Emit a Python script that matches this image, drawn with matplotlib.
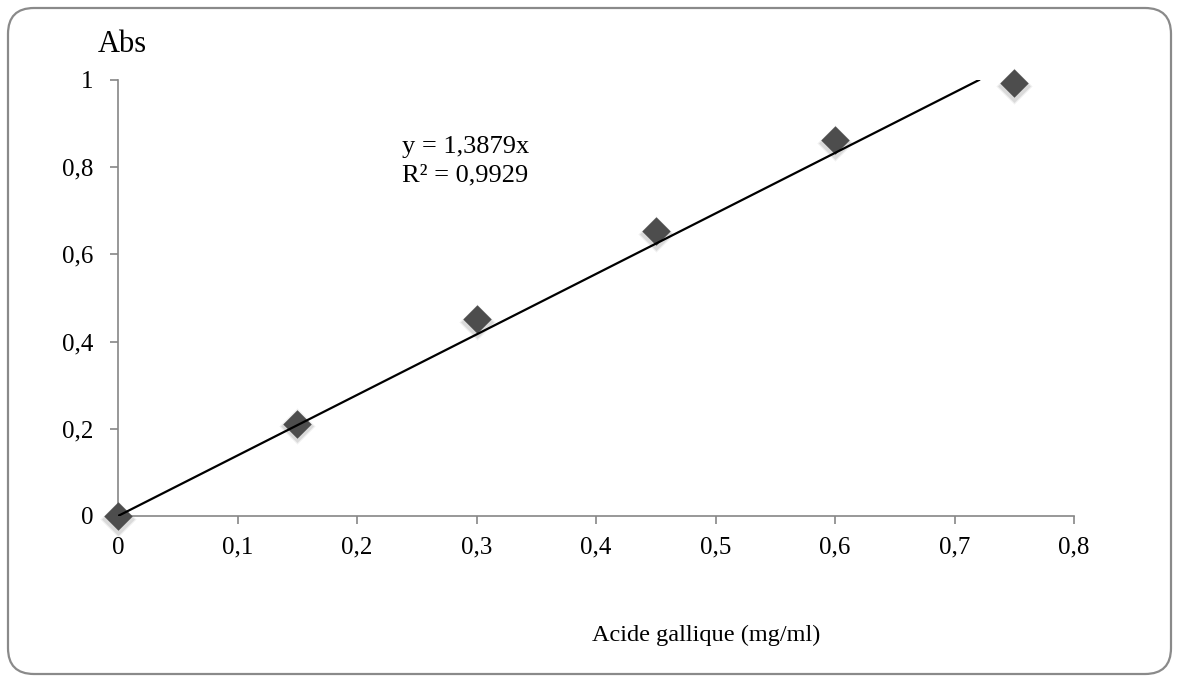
import matplotlib.pyplot as plt
from matplotlib.patches import FancyBboxPatch
from matplotlib.transforms import IdentityTransform
import numpy as np

# Gallic acid calibration points
conc = [0, 0.15, 0.30, 0.45, 0.60, 0.75]
absorb = [0, 0.212, 0.452, 0.653, 0.862, 0.993]
slope = 1.3879
r2 = 0.9929

xticks = [0, 0.1, 0.2, 0.3, 0.4, 0.5, 0.6, 0.7, 0.8]
yticks = [0, 0.2, 0.4, 0.6, 0.8, 1.0]

plt.rcParams['font.family'] = ['Liberation Serif', 'DejaVu Serif']
axis_grey = '#868686'

fig = plt.figure(figsize=(11.79, 6.82), dpi=100)
W, H = 1179, 682

# rounded chart border (pixel coords)
frame = FancyBboxPatch((8, 8), 1163, 666,
                       boxstyle="round,pad=0,rounding_size=26",
                       transform=IdentityTransform(), facecolor='none',
                       edgecolor='#8a8a8a', linewidth=1.6, zorder=0)
fig.patches.append(frame)

ax = fig.add_axes([118 / W, 1 - 516 / H, (1074 - 118) / W, (516 - 80) / H])
ax.set_facecolor('none')
ax.set_xlim(0, 0.8)
ax.set_ylim(0, 1)

# trendline through origin, clipped at top of axes
x_end = 1.0 / slope
xl = np.array([0, x_end])
ax.plot(xl, slope * xl, color='black', linewidth=1.6, zorder=5)

# markers with a faint soft shadow
for s_, a_ in [(340, 0.14), (280, 0.25)]:
    ax.scatter(conc, np.array(absorb) - 0.006, marker='D', s=s_,
               color='#999999', alpha=a_, linewidths=0, zorder=3, clip_on=False)
ax.scatter(conc, absorb, marker='D', s=210, color='#4d4d4d', linewidths=0,
           zorder=4, clip_on=False)

for s in ['top', 'right']:
    ax.spines[s].set_visible(False)
for s in ['left', 'bottom']:
    ax.spines[s].set_color(axis_grey)
    ax.spines[s].set_linewidth(1.2)

ax.set_xticks(xticks)
ax.set_yticks(yticks)
ax.set_xticklabels([('%g' % v).replace('.', ',') for v in xticks])
ax.set_yticklabels([('%g' % v).replace('.', ',') for v in yticks])
ax.tick_params(axis='both', direction='out', length=6, width=1.2, color=axis_grey,
               labelsize=18, labelcolor='black')
ax.tick_params(axis='y', pad=12)
ax.tick_params(axis='x', pad=9)

ax.text(0.2375, 0.872, 'y = 1,3879x\nR² = 0,9929', fontsize=19,
        linespacing=1.4, va='top', ha='left', transform=ax.transData)

fig.text(122 / W, 1 - 45 / H, 'Abs', fontsize=22, ha='center', va='center')
fig.text(706 / W, 1 - 635 / H, 'Acide gallique (mg/ml)', fontsize=17.5,
         ha='center', va='center')

fig.savefig('out.png', dpi=100)
